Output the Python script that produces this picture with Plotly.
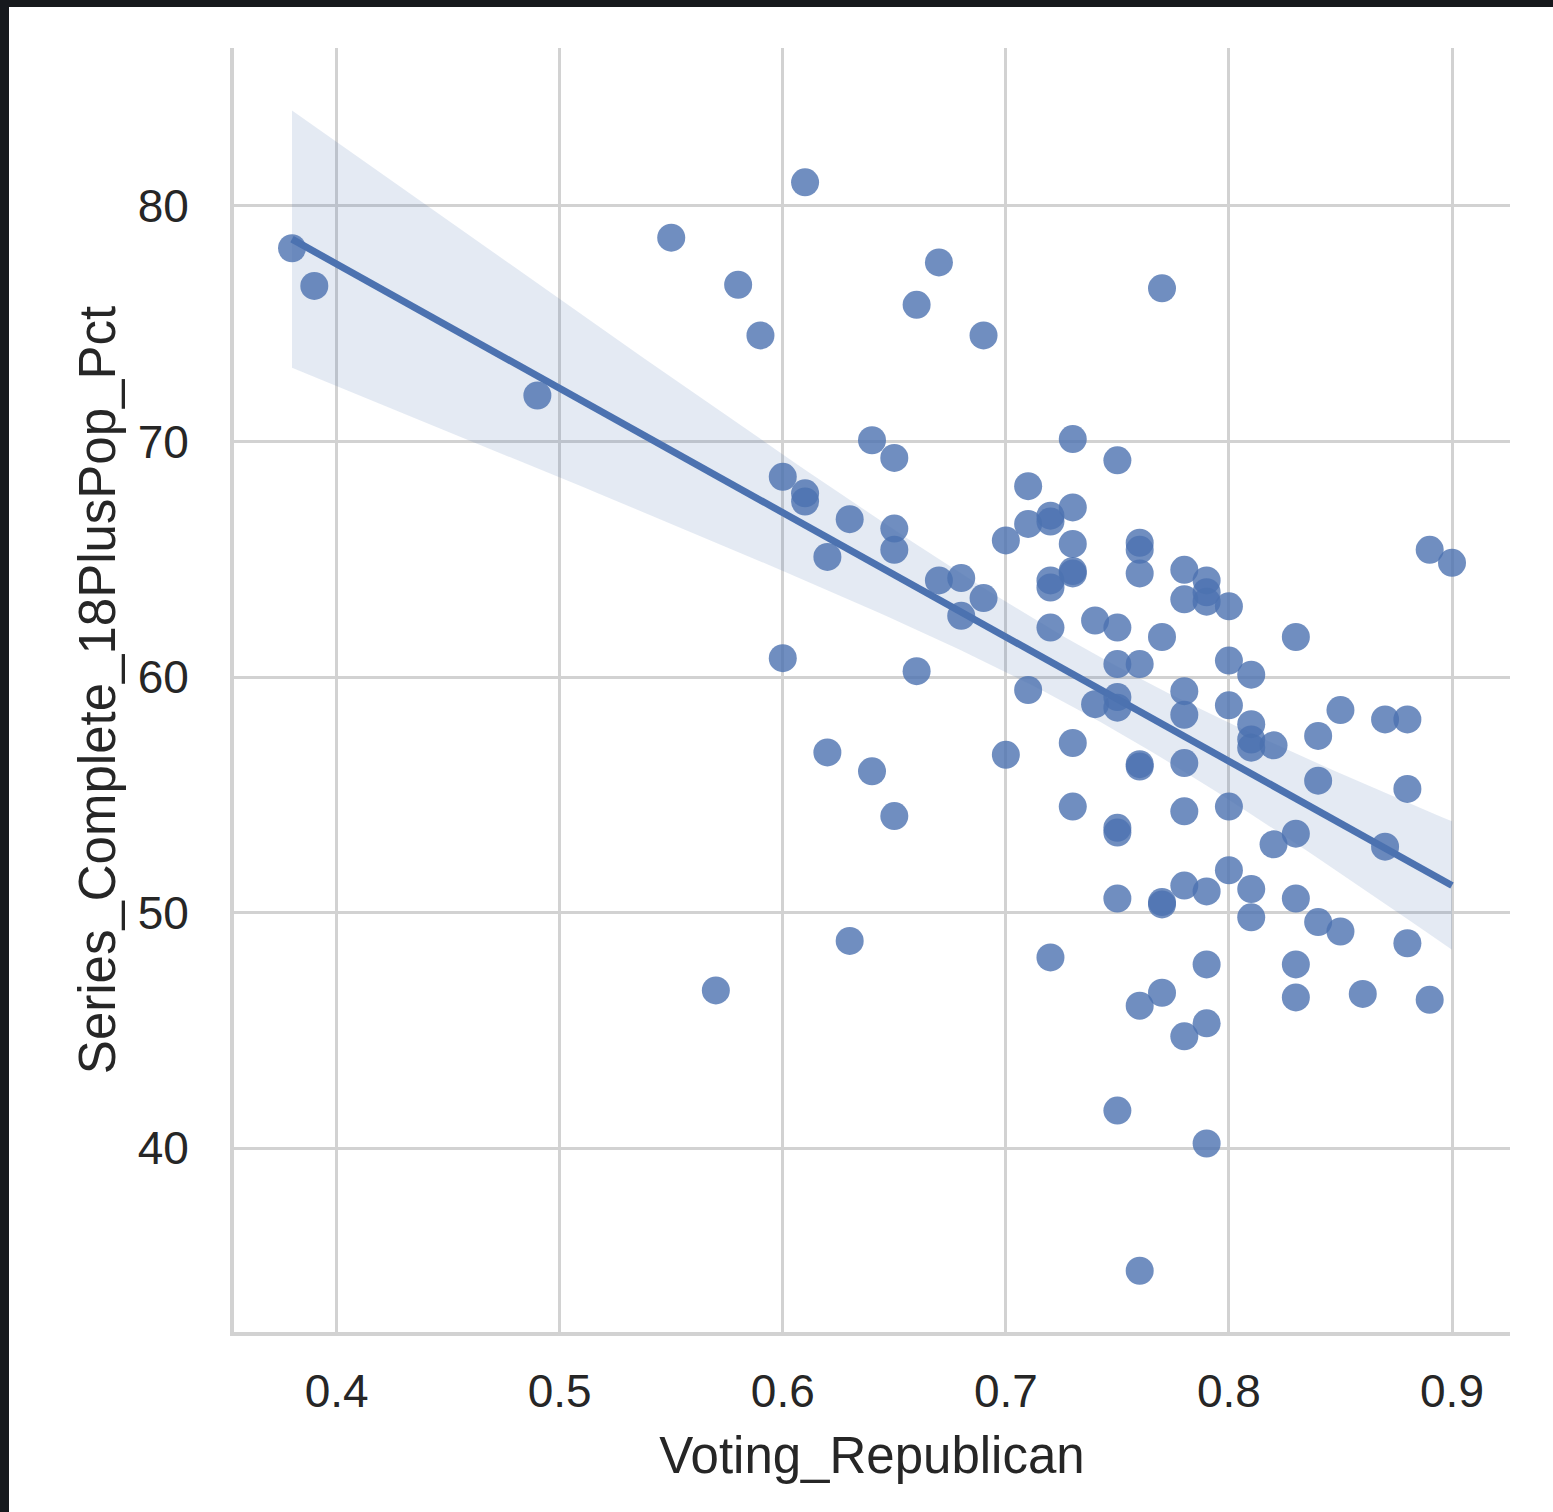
import numpy as np
import plotly.graph_objects as go

# ---- data ----
voting_republican = [
    0.38, 0.39, 0.49, 0.55, 0.57, 0.58, 0.59, 0.60, 0.60, 0.61, 0.61, 0.61,
    0.62, 0.62, 0.63, 0.63, 0.64, 0.64, 0.65, 0.65, 0.65, 0.65, 0.66, 0.66,
    0.67, 0.67, 0.68, 0.68, 0.69, 0.69, 0.70, 0.70, 0.71, 0.71, 0.71,
    0.72, 0.72, 0.72, 0.72, 0.72, 0.72,
    0.73, 0.73, 0.73, 0.73, 0.73, 0.73, 0.73,
    0.74, 0.74,
    0.75, 0.75, 0.75, 0.75, 0.75, 0.75, 0.75, 0.75, 0.75,
    0.76, 0.76, 0.76, 0.76, 0.76, 0.76, 0.76, 0.76,
    0.77, 0.77, 0.77, 0.77, 0.77,
    0.78, 0.78, 0.78, 0.78, 0.78, 0.78, 0.78, 0.78,
    0.79, 0.79, 0.79, 0.79, 0.79, 0.79, 0.79,
    0.80, 0.80, 0.80, 0.80, 0.80,
    0.81, 0.81, 0.81, 0.81, 0.81, 0.81,
    0.82, 0.82,
    0.83, 0.83, 0.83, 0.83, 0.83,
    0.84, 0.84, 0.84,
    0.85, 0.85, 0.86, 0.87, 0.87, 0.88, 0.88, 0.88, 0.89, 0.89, 0.90,
]
series_complete_pct = [
    78.2, 76.6, 71.95, 78.65, 46.7, 76.65, 74.5, 68.5, 60.8, 81.0, 67.8, 67.45,
    65.1, 56.8, 66.7, 48.8, 70.05, 56.0, 69.3, 66.3, 65.4, 54.1, 75.8, 60.25,
    77.6, 64.1, 64.2, 62.6, 74.5, 63.35, 65.8, 56.7, 68.1, 66.5, 59.45,
    66.85, 66.6, 64.1, 63.8, 62.1, 48.1,
    70.1, 67.2, 65.65, 64.5, 64.4, 57.2, 54.5,
    62.4, 58.85,
    69.2, 62.1, 60.55, 59.15, 58.7, 53.6, 53.4, 50.6, 41.6,
    65.7, 65.4, 64.4, 60.55, 56.3, 56.2, 46.05, 34.8,
    76.5, 61.7, 50.45, 50.35, 46.6,
    64.55, 63.3, 59.4, 58.4, 56.35, 54.3, 51.15, 44.75,
    64.1, 63.6, 63.2, 50.9, 47.8, 45.3, 40.2,
    63.0, 60.7, 58.8, 54.5, 51.8,
    60.1, 58.0, 57.35, 57.0, 51.0, 49.8,
    57.1, 52.9,
    61.7, 53.35, 50.6, 47.8, 46.4,
    57.5, 55.6, 49.6,
    58.6, 49.2, 46.55, 58.2, 52.8, 58.2, 55.25, 48.7, 65.4, 46.3, 64.85,
]
x_ticks = [0.4, 0.5, 0.6, 0.7, 0.8, 0.9]
x_tick_labels = ["0.4", "0.5", "0.6", "0.7", "0.8", "0.9"]
y_ticks = [40, 50, 60, 70, 80]
y_tick_labels = ["40", "50", "60", "70", "80"]

# ---- regression with 95% confidence band ----
x = np.array(voting_republican)
y = np.array(series_complete_pct)
n = len(x)
slope, intercept = np.polyfit(x, y, 1)
grid = np.linspace(x.min(), x.max(), 100)
fit = intercept + slope * grid
resid = y - (intercept + slope * x)
s = np.sqrt(np.sum(resid ** 2) / (n - 2))
sxx = np.sum((x - x.mean()) ** 2)
se = s * np.sqrt(1.0 / n + (grid - x.mean()) ** 2 / sxx)
t = 1.98
upper = fit + t * se
lower = fit - t * se

BLUE = "#4c72b0"
TXT = "#262626"
GRIDC = "#d2d2d2"
FRAME = "#16191d"
FONT = "Liberation Sans, Arial, sans-serif"

fig = go.Figure()
fig.add_trace(go.Scatter(
    x=x, y=y, mode="markers",
    marker=dict(color=BLUE, opacity=0.8, size=28, line=dict(width=0)),
    hoverinfo="x+y", showlegend=False,
))
fig.add_trace(go.Scatter(
    x=grid, y=upper, mode="lines", line=dict(width=0, color=BLUE),
    showlegend=False, hoverinfo="skip",
))
fig.add_trace(go.Scatter(
    x=grid, y=lower, mode="lines", line=dict(width=0, color=BLUE),
    fill="tonexty", fillcolor="rgba(76,114,176,0.15)",
    showlegend=False, hoverinfo="skip",
))
fig.add_trace(go.Scatter(
    x=grid, y=fit, mode="lines", line=dict(width=7, color=BLUE),
    showlegend=False, hoverinfo="skip",
))

W, H = 1553, 1512
L, R, T, B = 234, 43, 48, 180
pw, ph = W - L - R, H - T - B

fig.update_layout(
    width=W, height=H,
    margin=dict(l=L, r=R, t=T, b=B),
    paper_bgcolor="white", plot_bgcolor="white",
    font=dict(family=FONT, color=TXT),
    showlegend=False,
    xaxis=dict(
        range=[0.354, 0.926], tickvals=x_ticks, ticktext=x_tick_labels,
        showgrid=True, gridcolor=GRIDC, gridwidth=3, zeroline=False,
        showline=True, linecolor=GRIDC, linewidth=4,
        ticks="", tickfont=dict(size=46, color=TXT, family=FONT),
        ticklabelstandoff=16,
        title=dict(text="Voting_Republican", font=dict(size=51, color=TXT, family=FONT), standoff=22),
    ),
    yaxis=dict(
        range=[32.2, 86.7], tickvals=y_ticks, ticktext=y_tick_labels,
        showgrid=True, gridcolor=GRIDC, gridwidth=3, zeroline=False,
        showline=True, linecolor=GRIDC, linewidth=4,
        ticks="", tickfont=dict(size=46, color=TXT, family=FONT),
        ticklabelstandoff=32,
        title=dict(text="Series_Complete_18PlusPop_Pct", font=dict(size=51, color=TXT, family=FONT), standoff=7),
    ),
    shapes=[
        dict(type="rect", xref="paper", yref="paper",
             x0=-L / pw, x1=(9 - L) / pw, y0=-B / ph, y1=(H - B) / ph,
             fillcolor=FRAME, line=dict(width=0), layer="above"),
        dict(type="rect", xref="paper", yref="paper",
             x0=-L / pw, x1=(W - L) / pw, y0=(H - B - 7) / ph, y1=(H - B) / ph,
             fillcolor=FRAME, line=dict(width=0), layer="above"),
    ],
)

fig.write_html(
    "out.html",
    config={"displayModeBar": False},
    post_script="document.body.style.margin='0';document.documentElement.style.overflow='hidden';",
)
